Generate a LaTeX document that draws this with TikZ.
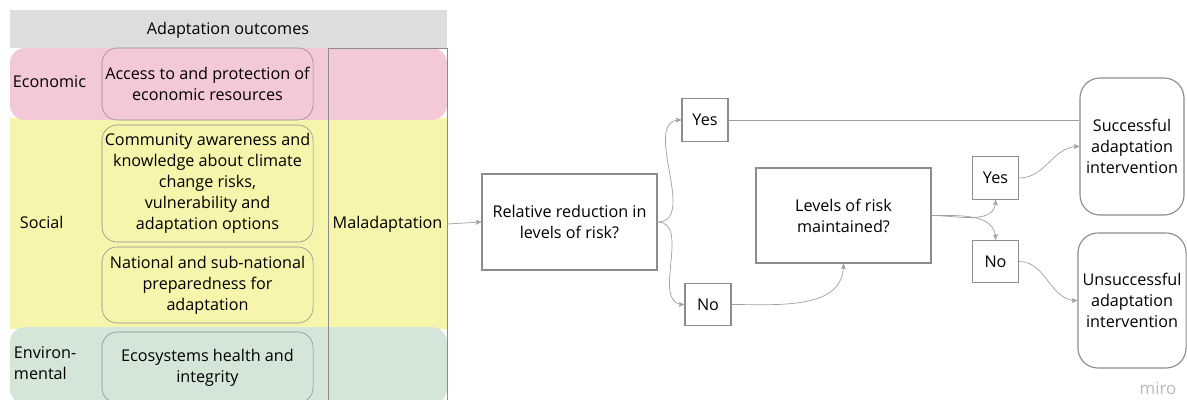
\documentclass[tikz,border=0pt]{standalone}
\usepackage{fontspec}
\setmainfont{Open Sans}
\usepackage{xcolor}
\usepackage{tikz}
\usetikzlibrary{positioning, arrows}
\definecolor{headgray}{HTML}{DDDDDD}
\definecolor{econpink}{HTML}{F3C9D7}
\definecolor{socyellow}{HTML}{F7F4AB}
\definecolor{envgreen}{HTML}{D3E6D8}
\definecolor{boxline}{HTML}{8C8C8C}
\tikzset{>=stealth',
         x=0.025cm, y=-0.025cm,
         every node/.style={font=\fontsize{11.5}{15}\selectfont, align=center},
         outcome/.style={draw=boxline, rounded corners=0.38cm, minimum width=5.275cm, inner sep=0pt},
         question/.style={draw=boxline, thick, minimum width=4.375cm},
         answer/.style={draw=boxline, thick, minimum width=1.15cm, minimum height=1.06cm},
         result/.style={draw=boxline, thick, rounded corners=0.5cm, minimum width=2.6cm},
         flow/.style={->, draw=gray!75, line width=0.5pt},
         }

\begin{document}
\begin{tikzpicture}
    \useasboundingbox (0,0) rectangle (1187,400);
    % bands
    \fill[headgray] (10,10) rectangle (447,48);
    \fill[socyellow] (10,118) rectangle (447,329);
    \fill[econpink, rounded corners=0.38cm] (10,48) rectangle (447,120);
    \fill[envgreen, rounded corners=0.38cm] (10,327) rectangle (447,404);
    \node (head) at (228,30) {Adaptation outcomes};
    \node[anchor=west] (econ) at (8,82) {Economic};
    \node[anchor=west] (soc) at (15,222) {Social};
    \node[anchor=west, align=left] (env) at (9,363) {Environ-\\mental};

    \node[draw=boxline, minimum width=2.975cm, minimum height=8.8cm, inner sep=0pt] (mal) at (387.5,224) {Maladaptation};

    \node[outcome, minimum height=1.8cm] (o1) at (207.5,84) {Access to and protection of\\economic resources};
    \node[outcome, minimum height=2.925cm] (o2) at (207.5,183.5) {Community awareness and\\knowledge about climate\\change risks,\\vulnerability and\\adaptation options};
    \node[outcome, minimum height=1.9cm] (o3) at (207.5,285) {National and sub-national\\preparedness for\\adaptation};
    \node[outcome, minimum height=1.775cm] (o4) at (207.5,367.5) {Ecosystems health and\\integrity};

    % decision flow
    \node[question, minimum height=2.4cm] (rel) at (569.5,222) {Relative reduction in\\levels of risk?};
    \node[answer] (yes1) at (705,120) {Yes};
    \node[answer] (no1) at (708,304.5) {No};
    \node[question, minimum height=2.375cm] (lev) at (843.5,215.5) {Levels of risk\\maintained?};
    \node[answer] (yes2) at (995.5,178) {Yes};
    \node[answer] (no2) at (995.5,261.5) {No};
    \node[result, minimum height=3.425cm] (succ) at (1132,146.5) {Successful\\adaptation\\intervention};
    \node[result, minimum height=3.375cm] (unsucc) at (1132,300.5) {Unsuccessful\\adaptation\\intervention};
    \node[text=gray!55, font=\fontsize{12}{14}\selectfont, inner sep=1pt] (miro) at (1158,388) {miro};

    \draw[flow] (mal.east) -- (rel.west);
    \draw[flow] (rel.east) to[out=0, in=180] (yes1.west);
    \draw[flow] (rel.east) to[out=0, in=180] (no1.west);
    \draw[flow, -] (yes1.east) -- (yes1.east -| succ.west);
    \draw[flow] (no1.east) to[out=0, in=-90] (lev.south);
    \draw[flow] (lev.east) to[out=0, in=-90] (yes2.south);
    \draw[flow] (lev.east) to[out=0, in=90] (no2.north);
    \draw[flow] (yes2.east) to[out=0, in=180] (succ.west);
    \draw[flow] (no2.east) to[out=0, in=180] (unsucc.west);
\end{tikzpicture}
\end{document}
